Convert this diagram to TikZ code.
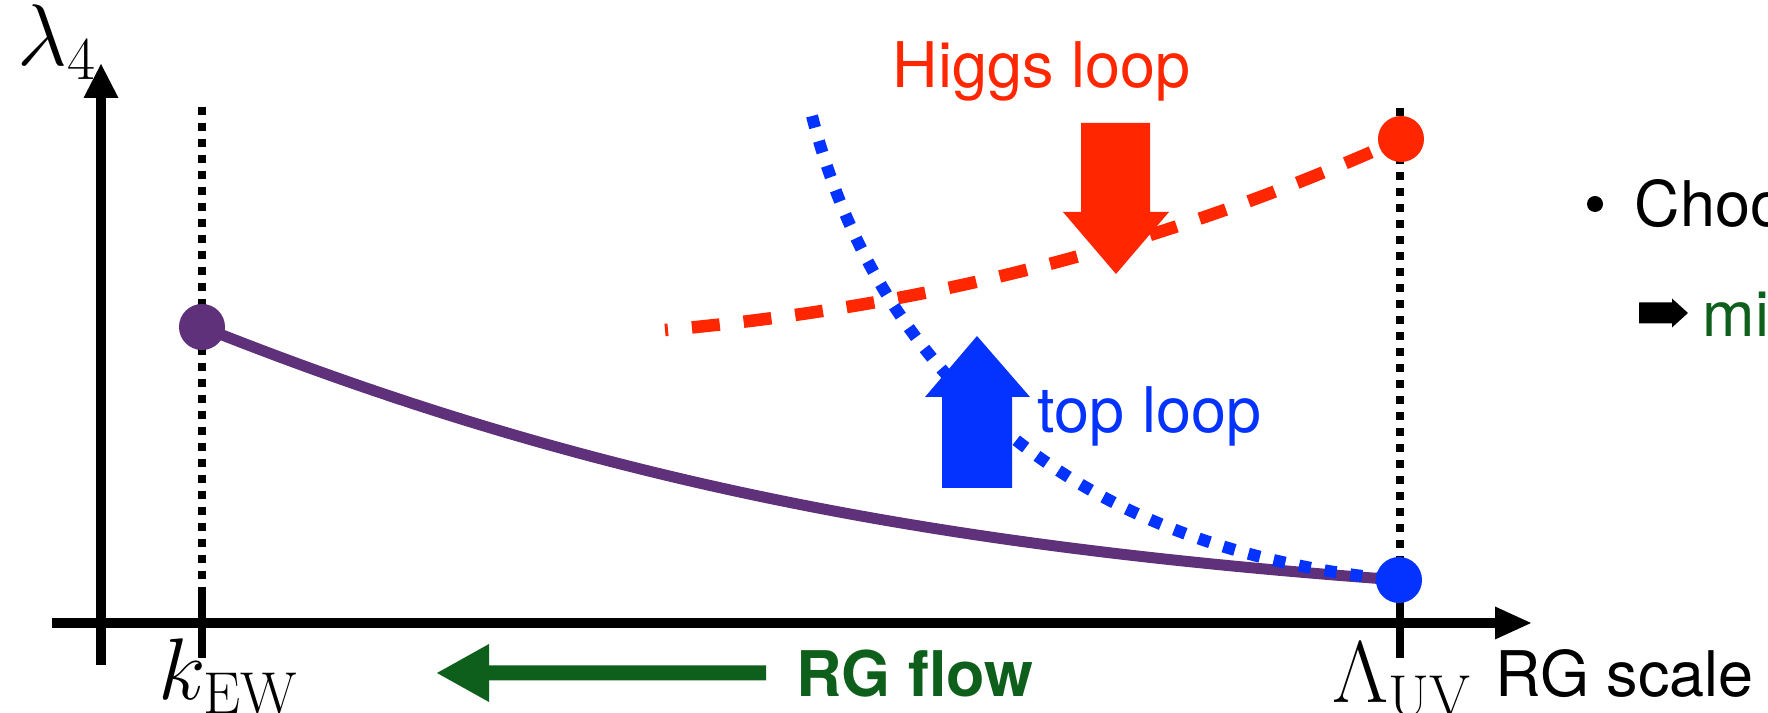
\documentclass[tikz,border=0pt]{standalone}
\usepackage{fontspec}
\setsansfont{TeX Gyre Heros}
\definecolor{higgsred}{HTML}{FF2600}
\definecolor{topblue}{HTML}{0433FF}
\definecolor{ewpurple}{HTML}{5E317A}
\definecolor{flowgreen}{HTML}{0F5F1C}
\begin{document}
\begin{tikzpicture}[x=0.01cm,y=-0.01cm,
  axis/.style={line width=0.095cm},
  guide/.style={line width=0.085cm, dash pattern=on 0.08cm off 0.08cm},
  tickmark/.style={line width=0.085cm},
  dotmark/.style={circle, inner sep=0pt, minimum size=0.46cm},
  sanslabel/.style={inner sep=0pt, anchor=base west, font=\sffamily\fontsize{17.9}{20}\selectfont},
  boldlabel/.style={sanslabel, font=\sffamily\bfseries\fontsize{17.9}{20}\selectfont},
  mathlabel/.style={inner sep=0pt, anchor=base west, font=\fontsize{24}{28}\selectfont}]
\useasboundingbox (0,0) rectangle (1768,713);
\clip (0,0) rectangle (1768,713);

% key points
\coordinate (ewpt) at (202,327);
\coordinate (uvhpt) at (1401,139);
\coordinate (uvtpt) at (1399,580);
\coordinate (hstart) at (665,330);
\coordinate (tstart) at (812,116);

% guide lines at the two scales
\draw[guide] (202,107) -- (202,589);
\draw[guide] (1400,108) -- (1400,575);

% axes
\coordinate (yb) at (101,665);
\coordinate (yt) at (101,97);
\coordinate (xl) at (52,623);
\coordinate (xr) at (1496,623);
\draw[axis] (yb) -- (yt);
\fill (83.5,98) -- (118.5,98) -- (101,64) -- cycle;
\draw[axis] (xl) -- (xr);
\fill (1495,606.5) -- (1495,639.5) -- (1531,623) -- cycle;

% ticks
\draw[tickmark] (202,589) -- (202,658);
\draw[tickmark] (1400,585) -- (1400,658);

% flows of lambda_4
\draw[ewpurple, line width=0.11cm] (ewpt) .. controls (598,485) and (947,547) .. (uvtpt);
\draw[higgsred, line width=0.125cm, dash pattern=on 0.28cm off 0.24cm, dash phase=0.25cm]
  (hstart) .. controls (915,307.5) and (1151,251.5) .. (uvhpt);
\draw[topblue, line width=0.12cm, dash pattern=on 0.12cm off 0.14cm]
  (tstart) .. controls (878,371) and (1069,550) .. (uvtpt);

% block arrows
\fill[higgsred] (1081,123) -- (1150,123) -- (1150,212) -- (1169,212) -- (1116,274)
  -- (1063,212) -- (1081,212) -- cycle;
\fill[topblue] (942,488) -- (1012,488) -- (1012,397) -- (1030,397) -- (977,336)
  -- (925,397) -- (942,397) -- cycle;
\fill[flowgreen] (766,665.5) -- (489,665.5) -- (489,644) -- (437,673) -- (489,702)
  -- (489,680.5) -- (766,680.5) -- cycle;
\fill (1639,302.5) -- (1672,302.5) -- (1672,298.5) -- (1688,313) -- (1672,327.5)
  -- (1672,323.5) -- (1639,323.5) -- cycle;

% end points
\node[dotmark, fill=ewpurple] (ew) at (ewpt) {};
\node[dotmark, fill=higgsred] (uvh) at (uvhpt) {};
\node[dotmark, fill=topblue] (uvt) at (uvtpt) {};

% labels
\node[mathlabel] (lam) at (17,66) {$\lambda_4$};
\node[mathlabel] (kew) at (158,700) {$k_{\mathrm{EW}}$};
\node[mathlabel] (luv) at (1332,703) {$\Lambda_{\mathrm{UV}}$};
\node[sanslabel, text=higgsred] (higgs) at (892,88) {Higgs loop};
\node[sanslabel, text=topblue] (top) at (1037,433) {top loop};
\node[sanslabel] (scale) at (1495,697) {RG scale};
\node[boldlabel, text=flowgreen] (flow) at (796,697) {RG flow};
\node[circle, fill, inner sep=0pt, minimum size=0.16cm] (bullet) at (1595,204) {};
\node[sanslabel] (choo) at (1634,227) {Choo};
\node[sanslabel, text=flowgreen] (mi) at (1702,337) {mi};
\end{tikzpicture}
\end{document}
